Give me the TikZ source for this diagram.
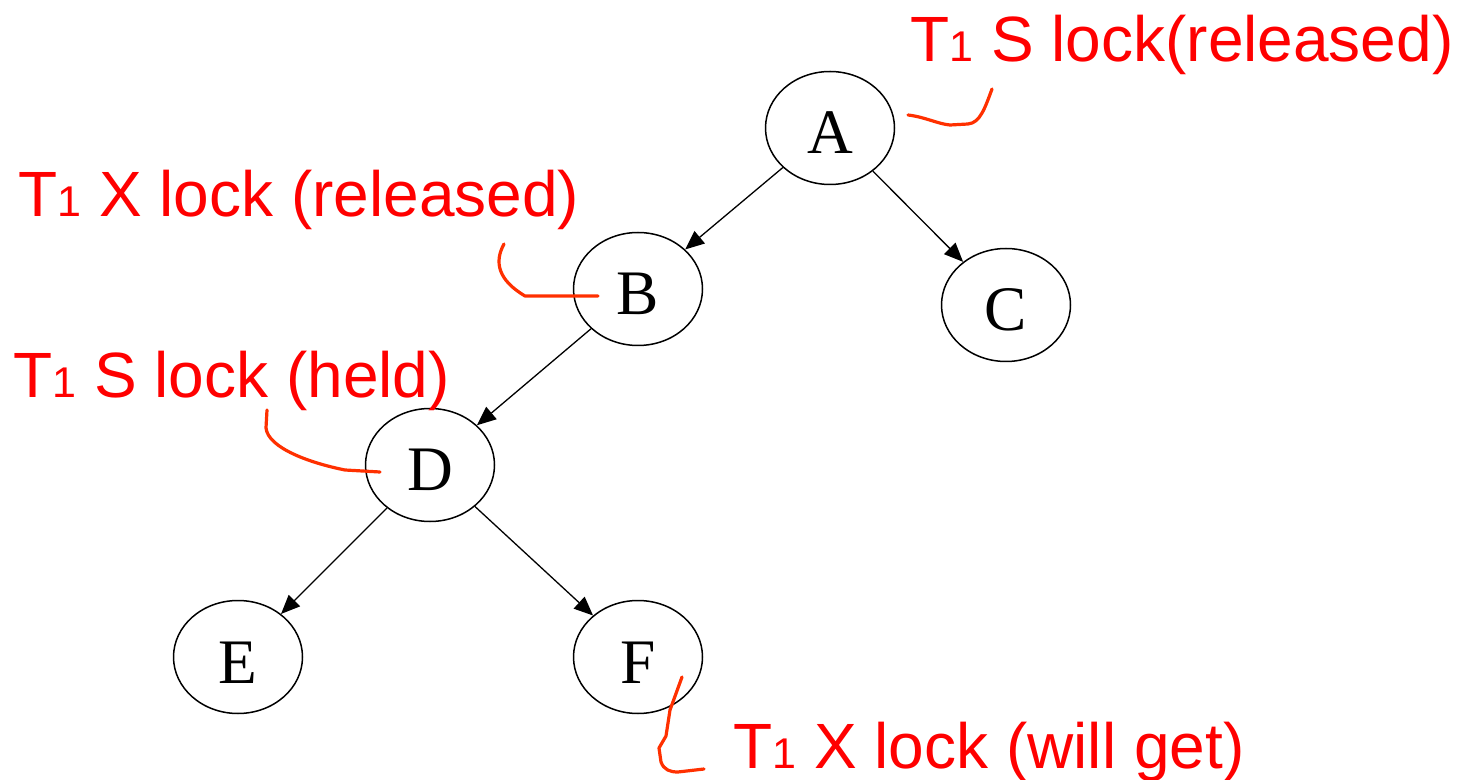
\documentclass[tikz,border=0pt]{standalone}
\usepackage{fontspec}
\setmainfont{Liberation Serif}
\newfontfamily\labelfont{Liberation Sans}
\usetikzlibrary{shapes.geometric,arrows.meta}
\definecolor{lockred}{RGB}{255,0,0}
\definecolor{penred}{RGB}{255,48,0}
\tikzset{
  treenode/.style={ellipse,draw=black,line width=0.75pt,inner sep=0pt,
    minimum width=64.5pt,minimum height=56.5pt,
    font=\fontsize{31.7}{32}\selectfont,text height=26pt,text depth=0pt},
  treearrow/.style={line width=0.65pt,-{Triangle[length=9.5pt,width=8pt]}},
  locktext/.style={anchor=base west,inner sep=0pt,text=lockred,
    font=\labelfont\fontsize{32}{33}\selectfont},
  pen/.style={draw=penred,line width=1.6pt,line cap=round,line join=round}
}
\newcommand{\Tone}{T{\fontsize{21.5}{22}\selectfont 1}}
\begin{document}
\begin{tikzpicture}[x=0.5pt,y=-0.5pt]
\useasboundingbox (0,0) rectangle (1462,780);
% tree nodes
\node[treenode] (A) at (830,128) {A};
\node[treenode] (B) at (638,289) {B};
\node[treenode] (C) at (1006,305) {C};
\node[treenode] (D) at (430,465) {D};
\node[treenode] (E) at (238,657) {E};
\node[treenode] (F) at (638,657) {F};
% edges
\draw[treearrow] (A) -- (B);
\draw[treearrow] (A) -- (C);
\draw[treearrow] (B) -- (D);
\draw[treearrow] (D) -- (E);
\draw[treearrow] (D) -- (F);
% labels
\node[locktext] (la) at (910,62) {\Tone{} S lock(released)};
\node[locktext] (lb) at (18,217) {\Tone{} X lock (released)};
\node[locktext] (ld) at (13,398) {\Tone{} S lock (held)};
\node[locktext] (lf) at (733,768) {\Tone{} X lock (will get)};
% hand-drawn pointers
\coordinate (pa1) at (908,115);
\coordinate (pa2) at (992,89);
\draw[pen] (pa1) .. controls (925,117) and (938,124) .. (950,125)
  -- (968,124) .. controls (980,123) and (985,108) .. (pa2);
\coordinate (pb1) at (504,244);
\coordinate (pb2) at (598,296);
\draw[pen] (pb1) .. controls (494,262) and (498,280) .. (525,296) -- (pb2);
\coordinate (pd1) at (267,410);
\coordinate (pd2) at (380,472);
\draw[pen] (pd1) -- (266,428) .. controls (268,448) and (310,463) .. (345,470) -- (pd2);
\coordinate (pf1) at (682,677);
\coordinate (pf2) at (704,769);
\draw[pen] (pf1) -- (670,710) -- (666,736) -- (659,748) -- (661,762)
  .. controls (664,770) and (670,772) .. (678,772) -- (pf2);
\end{tikzpicture}
\end{document}
